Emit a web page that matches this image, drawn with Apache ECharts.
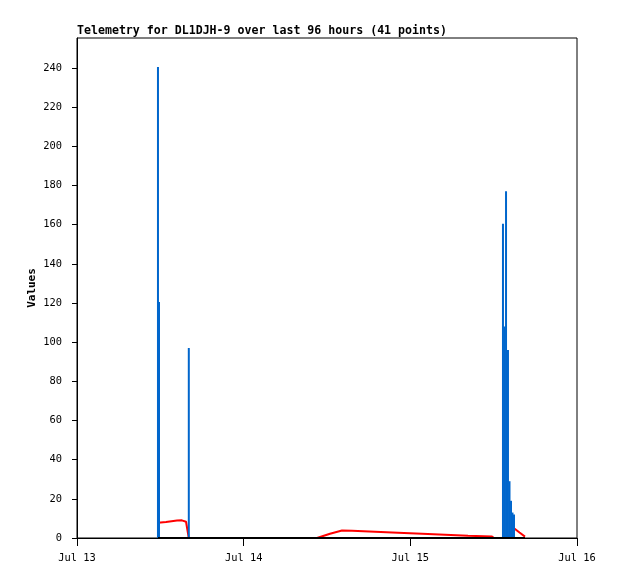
<!DOCTYPE html>
<html>
<head>
<meta charset="utf-8">
<script src="https://cdn.jsdelivr.net/npm/echarts@6/dist/echarts.min.js"></script>
<style>
html,body{margin:0;padding:0;background:#fff;}
#chart{width:618px;height:579px;}
</style>
</head>
<body>
<div id="chart"></div>
<script>
// Hours since Jul 13 00:00 for each telemetry point
var times = [11.66, 11.81, 12.82, 14.40, 15.10, 15.70, 16.10,
             34.56, 36.43, 38.16, 39.60, 42.91, 46.22, 49.68, 52.99, 56.30, 59.76, 60.05,
             61.34, 61.56, 61.78, 62.06, 62.28, 62.50, 62.71, 62.93, 63.72, 64.51];
// Blue channel (impulses)
var blueValues = [240.5, 120.5, 0, 0, 0, 0, 97,
                  0, 0, 0, 0, 0, 0, 0, 0, 0, 0, 0,
                  160.5, 108, 177, 96, 29, 19, 13, 12, 0, 0];
// Red channel (line)
var redValues = [7.8, 7.8, 8.2, 8.9, 9.0, 8.3, 0,
                 0, 2.2, 3.8, 3.7, 3.2, 2.7, 2.2, 1.7, 1.2, 0.8, 0,
                 0, 0, 0, 0, 1.5, 3.0, 4.0, 5.0, 2.8, 0.7];
// Black channel (line, all zero)
var blackValues = [0, 0, 0, 0, 0, 0, 0,
                   0, 0, 0, 0, 0, 0, 0, 0, 0, 0, 0,
                   0, 0, 0, 0, 0, 0, 0, 0, 0, 0];
var xTickLabels = ['Jul 13', 'Jul 14', 'Jul 15', 'Jul 16'];
var yTickValues = [0, 20, 40, 60, 80, 100, 120, 140, 160, 180, 200, 220, 240];
var titleText = 'Telemetry for DL1DJH-9 over last 96 hours (41 points)';
var yName = 'Values';

function pairs(vals) { return times.map(function (t, i) { return [t, vals[i]]; }); }

var mono = 'DejaVu Sans Mono';
var chart = echarts.init(document.getElementById('chart'), null, {renderer: 'canvas'});
chart.setOption({
  animation: false,
  backgroundColor: '#fff',
  title: {
    text: titleText, left: 77, top: 25, padding: 0,
    textStyle: {fontFamily: mono, fontSize: 11.6, fontWeight: 'bold', color: '#000'}
  },
  grid: {left: 77, top: 38, width: 500, height: 500, show: true, borderColor: '#000', borderWidth: 1, backgroundColor: 'transparent'},
  xAxis: {
    type: 'value', min: 0, max: 72, interval: 24,
    axisLine: {show: true, lineStyle: {color: '#000', width: 1}},
    axisTick: {show: true, length: 8, lineStyle: {color: '#000'}},
    axisLabel: {margin: 15, color: '#000', fontFamily: mono, fontSize: 10.4,
      formatter: function (v) { return xTickLabels[Math.round(v / 24)] || ''; }},
    splitLine: {show: false}
  },
  yAxis: {
    type: 'value', min: 0, max: 255.3,
    name: yName, nameLocation: 'middle', nameGap: 39, nameMoveOverlap: false,
    nameTextStyle: {fontFamily: mono, fontSize: 11, fontWeight: 'bold', color: '#000'},
    axisLine: {show: true, lineStyle: {color: '#000', width: 1}},
    axisTick: {show: true, length: 5, customValues: yTickValues, lineStyle: {color: '#000'}},
    axisLabel: {margin: 15, color: '#000', fontFamily: mono, fontSize: 10.4, customValues: yTickValues},
    splitLine: {show: false}
  },
  series: [
    {type: 'line', data: pairs(redValues), showSymbol: false, z: 2,
     lineStyle: {color: '#ff0000', width: 2}, itemStyle: {color: '#ff0000'}},
    {type: 'bar', data: pairs(blueValues), barWidth: 2, z: 3,
     itemStyle: {color: '#0066cc'}},
    {type: 'line', data: pairs(blackValues), showSymbol: false, z: 4,
     lineStyle: {color: '#000', width: 2}, itemStyle: {color: '#000'}}
  ]
});
</script>
</body>
</html>
